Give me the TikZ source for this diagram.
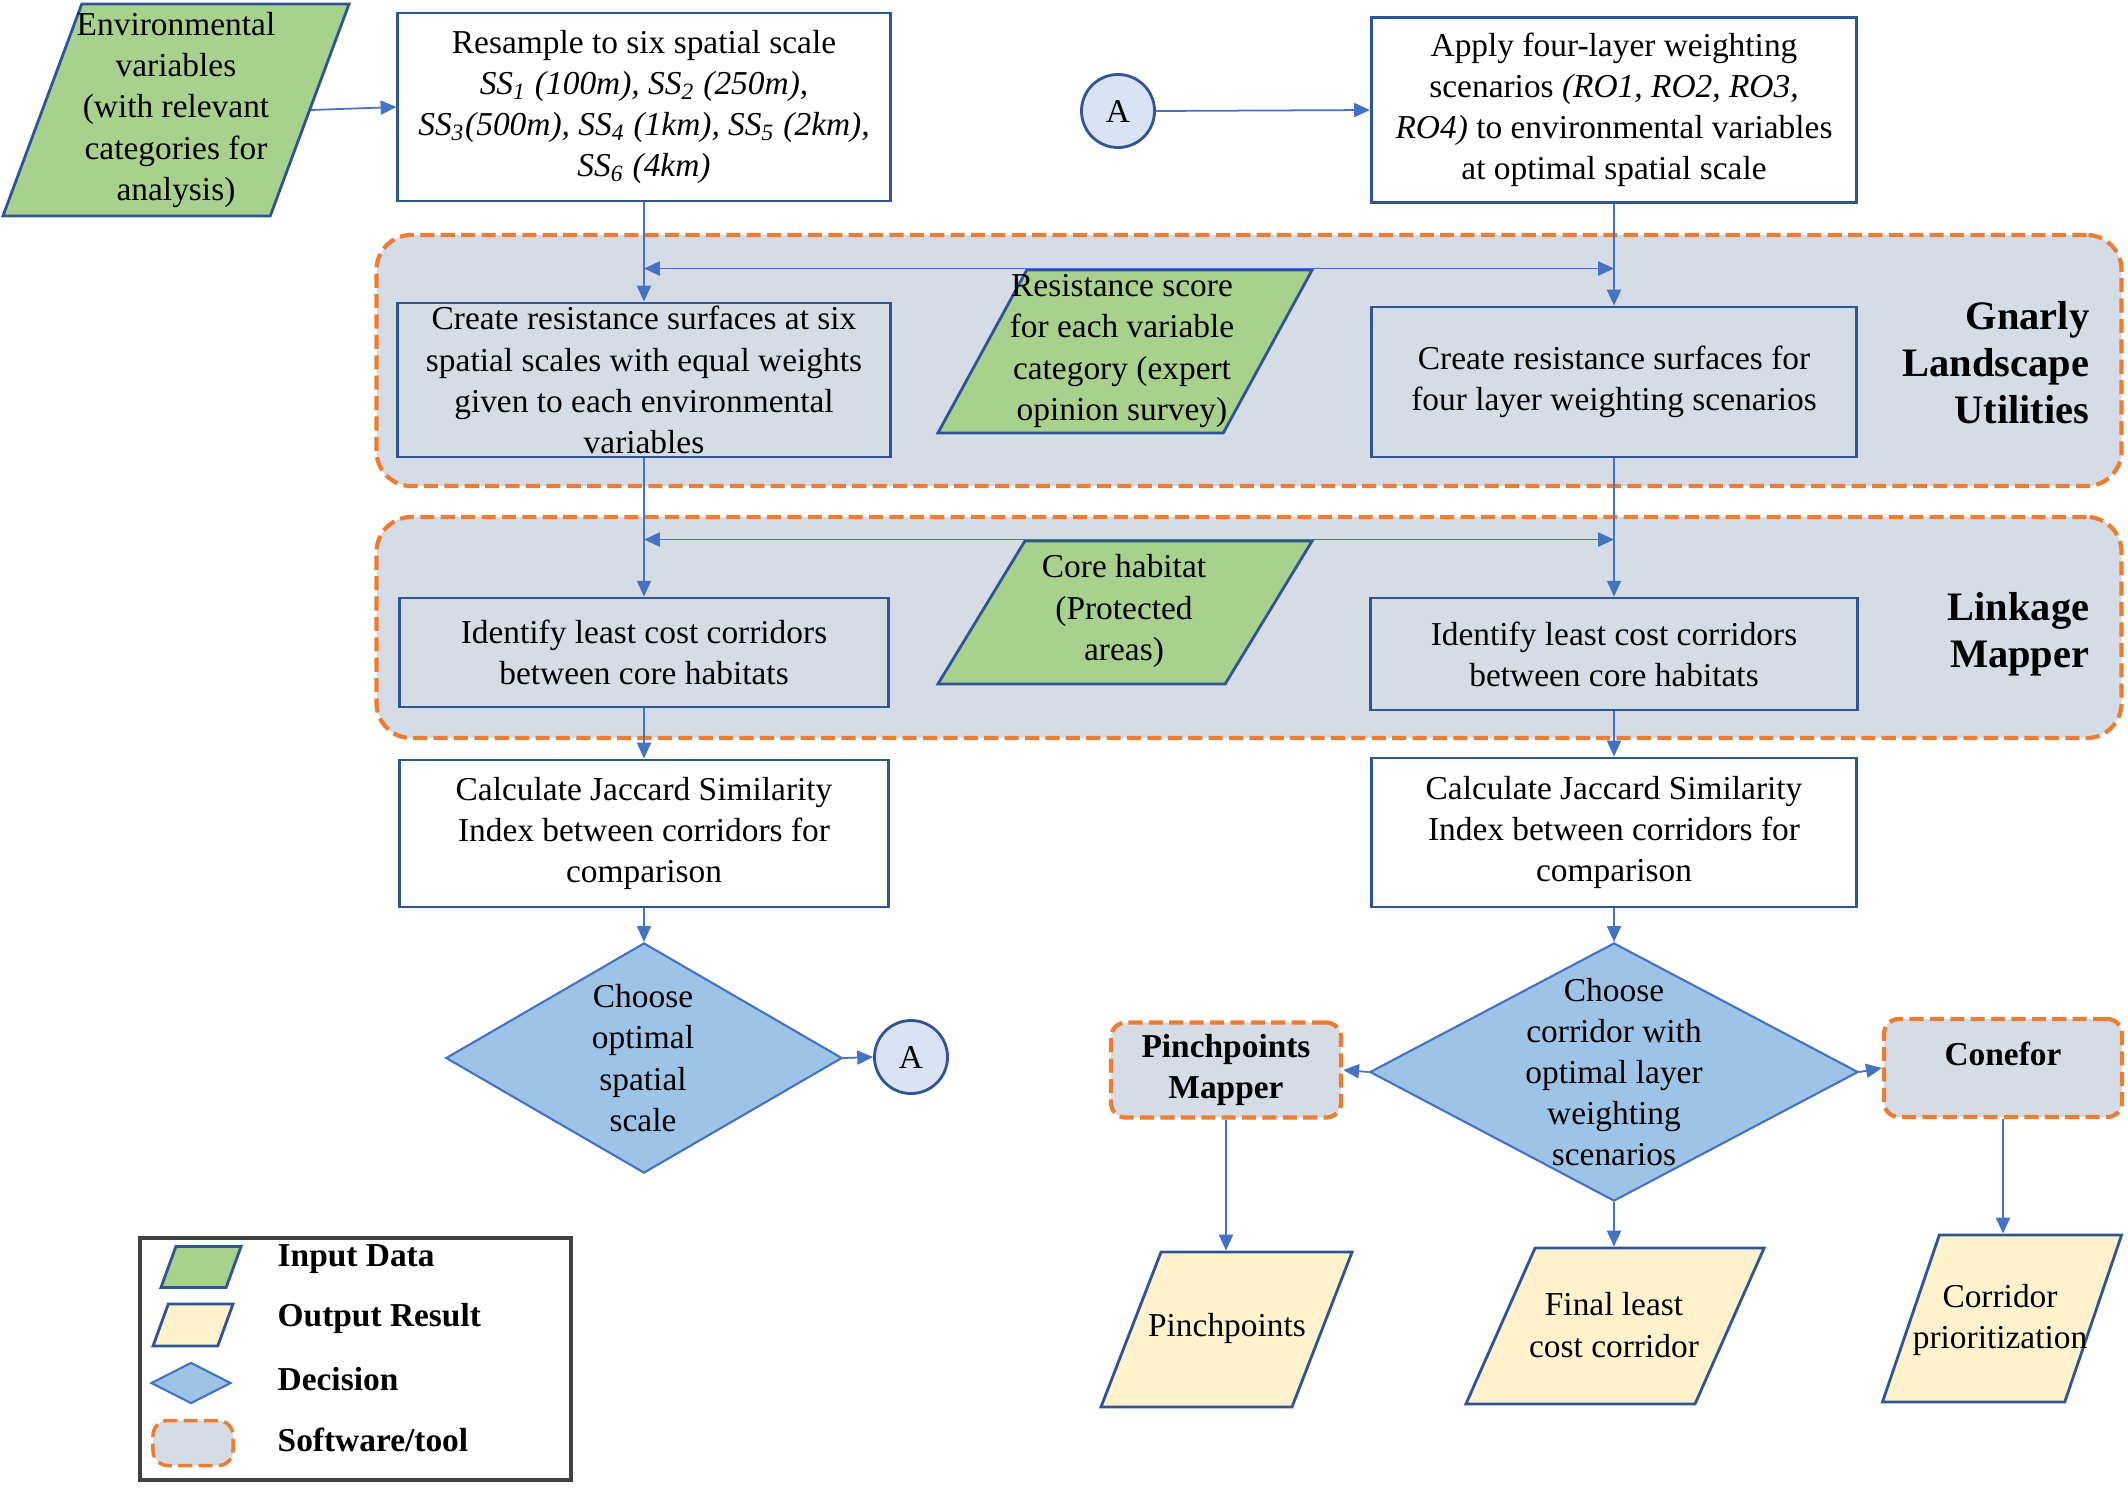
\documentclass[tikz,border=0pt]{standalone}
\usepackage{fontspec}
\setmainfont{Liberation Serif}
\usetikzlibrary{shapes.geometric,arrows.meta}
\definecolor{boxblue}{HTML}{2F5597}
\definecolor{lineblue}{HTML}{4472C4}
\definecolor{ingreen}{HTML}{A9D18E}
\definecolor{outyellow}{HTML}{FFF2CC}
\definecolor{decblue}{HTML}{9DC3E6}
\definecolor{toolgray}{HTML}{D6DCE5}
\definecolor{toolorange}{HTML}{ED7D31}
\definecolor{circfill}{HTML}{DAE3F3}
\definecolor{legendgray}{HTML}{404040}
\newcommand{\parabody}[2]{\phantom{\rule{#1}{#2}}}

\begin{document}
\begin{tikzpicture}[x=0.01cm,y=-0.01cm,
  every node/.style={font=\fontsize{9.5}{11.7}\selectfont},
  procbox/.style={draw=boxblue,line width=0.8pt,fill=white,align=center,inner sep=0pt},
  para/.style={trapezium,trapezium left angle=#1,trapezium right angle={180-#1},draw=boxblue,line width=0.8pt,inner sep=0pt},
  indata/.style={para=#1,fill=ingreen},
  outdata/.style={para=#1,fill=outyellow},
  decision/.style={diamond,draw=lineblue,line width=0.6pt,fill=decblue,inner sep=0pt},
  toolbox/.style={draw=toolorange,line width=1.2pt,dash pattern=on 4pt off 1.8pt,fill=toolgray,rounded corners=0.15cm,align=center,inner sep=0pt},
  linkcirc/.style={circle,draw=boxblue,line width=0.8pt,fill=circfill,minimum size=0.73cm,inner sep=0pt},
  lbl/.style={align=center,inner sep=0pt},
  toolname/.style={font=\fontsize{11.5}{13.4}\selectfont\bfseries,align=right,inner sep=0pt},
  legname/.style={font=\fontsize{9.5}{11.7}\selectfont\bfseries,anchor=west,inner sep=0pt},
  conn/.style={draw=lineblue,line width=0.5pt,-{Triangle[length=4.5pt,width=4pt]}}]
\useasboundingbox (0,0) rectangle (2128,1487);

\node[toolbox,rounded corners=0.35cm,minimum width=17.44cm,minimum height=2.51cm] (gnarly) at (1249,360.5) {};
\node[toolbox,rounded corners=0.35cm,minimum width=17.44cm,minimum height=2.21cm] (linkage) at (1249,627.5) {};
\node[toolname,anchor=east] (gnarly-t) at (2090,363) {Gnarly\\Landscape\\Utilities};
\node[toolname,anchor=east] (linkage-t) at (2090,634) {Linkage\\Mapper};

\node[indata=69.6] (env) at (176,110) {\parabody{1.883cm}{2.12cm}};
\node[lbl] (env-t) at (176,110) {Environmental\\variables\\(with relevant\\categories for\\analysis)};
\node[procbox,minimum width=4.92cm,minimum height=1.88cm] (resample) at (644,107) {Resample to six spatial scale\\
  \textit{SS\textsubscript{1} (100m), SS\textsubscript{2} (250m),}\\
  \textit{SS\textsubscript{3}(500m), SS\textsubscript{4} (1km), SS\textsubscript{5} (2km),}\\
  \textit{SS\textsubscript{6} (4km)}};
\node[linkcirc] (a-top) at (1118,111) {A};
\node[procbox,minimum width=4.85cm,minimum height=1.85cm] (apply) at (1614,110) {Apply four-layer weighting\\
  scenarios \textit{(RO1, RO2, RO3,}\\
  \textit{RO4)} to environmental variables\\
  at optimal spatial scale};

\node[procbox,fill=toolgray,minimum width=4.92cm,minimum height=1.54cm] (create1) at (644,380) {Create resistance surfaces at six\\spatial scales with equal weights\\given to each environmental\\variables};
\node[indata=61.4] (res) at (1125,351.5) {\parabody{1.963cm}{1.63cm}};
\node[lbl] (res-t) at (1122,351) {Resistance score\\for each variable\\category (expert\\opinion survey)};
\node[procbox,fill=toolgray,minimum width=4.85cm,minimum height=1.50cm] (create2) at (1614,382) {Create resistance surfaces for\\four layer weighting scenarios};

\node[procbox,fill=toolgray,minimum width=4.88cm,minimum height=1.09cm] (ident1) at (644,652.5) {Identify least cost corridors\\between core habitats};
\node[indata=58.7] (core) at (1125,612.5) {\parabody{2.001cm}{1.43cm}};
\node[lbl] (core-t) at (1124,611) {Core habitat\\(Protected\\areas)};
\node[procbox,fill=toolgray,minimum width=4.86cm,minimum height=1.12cm] (ident2) at (1614,654) {Identify least cost corridors\\between core habitats};

\node[procbox,minimum width=4.88cm,minimum height=1.47cm] (calc1) at (644,833.5) {Calculate Jaccard Similarity\\Index between corridors for\\comparison};
\node[procbox,minimum width=4.85cm,minimum height=1.49cm] (calc2) at (1614,832.5) {Calculate Jaccard Similarity\\Index between corridors for\\comparison};

\node[decision,minimum width=3.96cm,minimum height=2.30cm] (dec1) at (644,1058) {};
\node[lbl] (dec1-t) at (643,1058) {Choose\\optimal\\spatial\\scale};
\node[linkcirc] (a-bot) at (911,1057) {A};
\node[decision,minimum width=4.88cm,minimum height=2.58cm] (dec2) at (1614,1072) {};
\node[lbl] (dec2-t) at (1614,1072) {Choose\\corridor with\\optimal layer\\weighting\\scenarios};

\node[toolbox,minimum width=2.30cm,minimum height=0.95cm,font=\fontsize{9.5}{11.7}\selectfont\bfseries] (pinch) at (1226,1070) {Pinchpoints\\Mapper};
\node[toolbox,minimum width=2.38cm,minimum height=0.98cm,font=\fontsize{9.5}{11.7}\selectfont\bfseries] (conefor) at (2003,1068) {\raisebox{0.03cm}[0pt][0pt]{Conefor}};

\node[outdata=68.8] (pinch-out) at (1226.5,1329.5) {\parabody{1.308cm}{1.55cm}};
\node[lbl] (pinch-out-t) at (1227,1328) {Pinchpoints};
\node[outdata=66.1] (final) at (1615,1326) {\parabody{1.598cm}{1.56cm}};
\node[lbl] (final-t) at (1614,1325) {Final least\\cost corridor};
\node[outdata=71.2] (corr) at (2002,1318.5) {\parabody{1.253cm}{1.67cm}};
\node[lbl] (corr-t) at (2000,1320) {Corridor\\prioritization};

\draw[conn] (env.east) -- (resample.west);
\draw[conn] (a-top.east) -- (apply.west);
\draw[conn] (resample.south) -- (create1.north);
\draw[conn] (apply.south) -- (create2.north);
\draw[conn] (res.north) -- (res.north -| resample.south);
\draw[conn] (res.north) -- (res.north -| apply.south);
\draw[conn] (create1.south) -- (ident1.north);
\draw[conn] (create2.south) -- (ident2.north);
\draw[conn] (core.north) -- (core.north -| ident1.north);
\draw[conn] (core.north) -- (core.north -| ident2.north);
\draw[conn] (ident1.south) -- (calc1.north);
\draw[conn] (ident2.south) -- (calc2.north);
\draw[conn] (calc1.south) -- (dec1.north);
\draw[conn] (calc2.south) -- (dec2.north);
\draw[conn] (dec1.east) -- (a-bot.west);
\draw[conn] (dec2.west) -- (pinch.east);
\draw[conn] (dec2.east) -- (conefor.west);
\draw[conn] (pinch.south) -- (pinch.south |- pinch-out.north);
\draw[conn] (dec2.south) -- (dec2.south |- final.north);
\draw[conn] (conefor.south) -- (conefor.south |- corr.north);

\node[draw=legendgray,line width=1pt,minimum width=4.31cm,minimum height=2.42cm] (legend) at (355.5,1359) {};
\node[indata=70] (leg-in) at (201,1267) {\parabody{0.502cm}{0.41cm}};
\node[outdata=70] (leg-out) at (193,1325) {\parabody{0.494cm}{0.42cm}};
\node[decision,minimum width=0.80cm,minimum height=0.41cm] (leg-dec) at (191,1383) {};
\node[toolbox,minimum width=0.80cm,minimum height=0.45cm,line width=1pt] (leg-tool) at (193,1443) {};
\node[legname] (leg-in-t) at (277,1259) {Input Data};
\node[legname] (leg-out-t) at (277,1318) {Output Result};
\node[legname] (leg-dec-t) at (277,1379) {Decision};
\node[legname] (leg-tool-t) at (277,1440) {Software/tool};
\end{tikzpicture}
\end{document}
